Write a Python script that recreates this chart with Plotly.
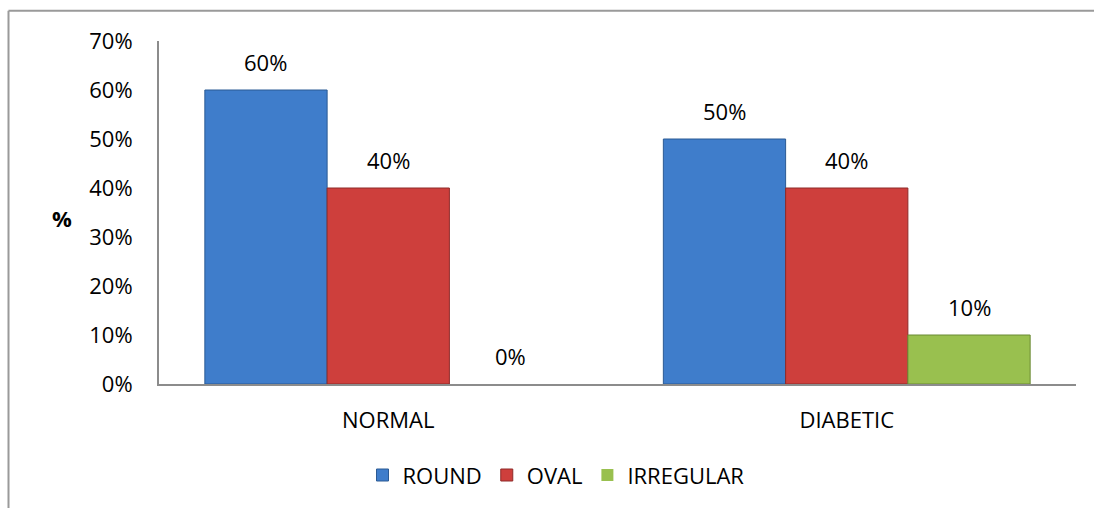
import plotly.graph_objects as go

categories = ["NORMAL", "DIABETIC"]
series_names = ["ROUND", "OVAL", "IRREGULAR"]
round_vals = [0.60, 0.50]
oval_vals = [0.40, 0.40]
irregular_vals = [0.00, 0.10]
y_ticks = [0, 0.1, 0.2, 0.3, 0.4, 0.5, 0.6, 0.7]
y_tick_labels = ["0%", "10%", "20%", "30%", "40%", "50%", "60%", "70%"]

colors = ["#3F7DCB", "#CE3F3C", "#99C04F"]
line_colors = ["#2B5A94", "#8E2A28", "#6A8A34"]
FONT = "Open Sans"
FS = 22

W, H = 1094, 508
L, R, T, B = 159, 18, 41, 121
pw, ph = W - L - R, H - T - B

fig = go.Figure()
all_vals = [round_vals, oval_vals, irregular_vals]
for name, vals, c, lc in zip(series_names, all_vals, colors, line_colors):
    fig.add_trace(go.Bar(
        name=name, x=categories, y=vals,
        marker=dict(color=c, line=dict(color=lc, width=[1 if v > 0 else 0 for v in vals])),
    ))

# data labels
offsets = [-1, 0, 1]
bar_px = pw / len(categories) * 0.8 / 3
for vals, off in zip(all_vals, offsets):
    for cat, v in zip(categories, vals):
        fig.add_annotation(x=cat, y=v, text=f"{round(v*100)}%", showarrow=False,
                           xshift=off * bar_px, yanchor="bottom", yshift=11,
                           font=dict(family=FONT, size=FS, color="#000"))

# y-axis title
fig.add_annotation(xref="paper", yref="paper", x=(62 - L) / pw, y=(387 - 220) / ph,
                   text="<b>%</b>", showarrow=False, xanchor="center", yanchor="middle",
                   font=dict(family=FONT, size=FS, color="#000"))

# chart border (left and top)
bx = (8.5 - L) / pw
by = (387 - 10.5) / ph
fig.add_shape(type="line", xref="paper", yref="paper", x0=bx, x1=(W + 20 - L) / pw, y0=by, y1=by,
              line=dict(color="#9A9A9A", width=2))
fig.add_shape(type="line", xref="paper", yref="paper", x0=bx, x1=bx, y0=by, y1=(387 - H - 20) / ph,
              line=dict(color="#9A9A9A", width=2))

fig.update_layout(
    width=W, height=H,
    margin=dict(l=L, r=R, t=T, b=B),
    paper_bgcolor="white", plot_bgcolor="white",
    barmode="group", bargap=0.2, bargroupgap=0,
    font=dict(family=FONT, size=FS, color="#000"),
    showlegend=True,
    legend=dict(orientation="h", x=(556 - L) / pw, xanchor="center", y=(387 - 479) / ph,
                yanchor="middle", font=dict(family=FONT, size=FS), itemwidth=30,
                traceorder="normal"),
    xaxis=dict(showline=True, linecolor="#8C8C8C", linewidth=2, ticks="", showgrid=False,
               tickfont=dict(size=FS), ticklabelstandoff=16),
    yaxis=dict(range=[0, 0.7], tickvals=y_ticks, ticktext=y_tick_labels, showgrid=False,
               showline=True, linecolor="#8C8C8C", linewidth=2, ticks="", zeroline=False,
               tickfont=dict(size=FS), ticklabelstandoff=20),
)

fig.write_html("out.html")
